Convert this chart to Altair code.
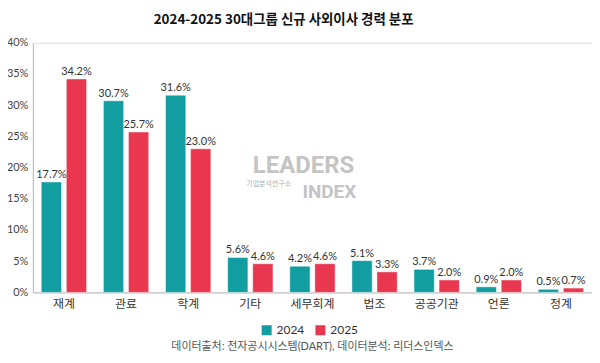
import altair as alt
import pandas as pd

categories = ["재계", "관료", "학계", "기타", "세무회계", "법조", "공공기관", "언론", "정계"]
years = ["2024", "2025"]
v2024 = [17.7, 30.7, 31.6, 5.6, 4.2, 5.1, 3.7, 0.9, 0.5]
v2025 = [34.2, 25.7, 23.0, 4.6, 4.6, 3.3, 2.0, 2.0, 0.7]
y_ticks = [0, 0.05, 0.10, 0.15, 0.20, 0.25, 0.30, 0.35, 0.40]
colors = ["#129ea1", "#e8374f"]
title_text = "2024-2025 30대그룹 신규 사외이사 경력 분포"
source_text = "데이터출처: 전자공시시스템(DART), 데이터분석: 리더스인덱스"

rows = []
for c, a, b in zip(categories, v2024, v2025):
    rows.append({"cat": c, "year": "2024", "v": a})
    rows.append({"cat": c, "year": "2025", "v": b})
df = pd.DataFrame(rows)
df["frac"] = df["v"] / 100
df["label"] = df["v"].map(lambda x: f"{x:.1f}%")

FONT = "Lato, Noto Sans CJK KR"
W, H = 562, 251

x = alt.X("cat:N", sort=categories,
          scale=alt.Scale(paddingInner=0.27, paddingOuter=0.135),
          axis=alt.Axis(title=None, labelAngle=0, ticks=False, domainColor="#bbbbbb",
                        labelFontSize=12, labelPadding=6, labelColor="#333333", labelFont=FONT))
xo = alt.XOffset("year:N", sort=years, scale=alt.Scale(paddingInner=0.19))
y = alt.Y("frac:Q", scale=alt.Scale(domain=[0, 0.4]),
          axis=alt.Axis(title=None, format=".0%", values=y_ticks, grid=False, ticks=False,
                        domainColor="#bbbbbb", labelPadding=5, labelFontSize=11,
                        labelColor="#444444", labelFont=FONT, labelOverlap=False,
                        tickCount=9))
color = alt.Color("year:N", sort=years,
                  scale=alt.Scale(domain=years, range=colors),
                  legend=alt.Legend(title=None, orient="none", direction="horizontal",
                                    legendX=229, legendY=283, symbolType="square",
                                    symbolSize=100, symbolStrokeWidth=0, labelFontSize=12,
                                    labelColor="#333333", labelFont=FONT, columnPadding=10,
                                    symbolOpacity=1))

bars = alt.Chart(df).mark_bar(stroke="white", strokeWidth=0.5).encode(
    x=x, xOffset=xo, y=y, color=color
)
labels = alt.Chart(df).mark_text(dy=-7, fontSize=11, color="#333333", font=FONT).encode(
    x=x, xOffset=xo, y=y, text="label:N"
)

src = alt.Chart(pd.DataFrame({"t": [source_text]})).mark_text(
    fontSize=11, color="#555555", font=FONT
).encode(x=alt.value(W / 2), y=alt.value(306), text="t:N")

wm1 = alt.Chart(pd.DataFrame({"t": ["LEADERS"]})).mark_text(
    fontSize=24, color="#c4c4c4", font="Roboto", fontWeight="bold"
).encode(x=alt.value(272), y=alt.value(124), text="t:N")
wm2 = alt.Chart(pd.DataFrame({"t": ["기업분석연구소"]})).mark_text(
    fontSize=7, color="#b0b0b0", font="Noto Sans CJK KR"
).encode(x=alt.value(237), y=alt.value(142), text="t:N")
wm3 = alt.Chart(pd.DataFrame({"t": ["INDEX"]})).mark_text(
    fontSize=19, color="#c4c4c4", font="Roboto", fontWeight="bold"
).encode(x=alt.value(298), y=alt.value(150), text="t:N")

chart = alt.layer(wm1, wm2, wm3, bars, labels, src).properties(
    width=W, height=H,
    title=alt.TitleParams(title_text, fontSize=13.5, fontWeight="bold", anchor="middle",
                          dx=-29, offset=10, color="#111111", font="Noto Sans CJK KR"),
    autosize=alt.AutoSizeParams(type="none"),
    padding={"left": 25, "top": 34, "right": 0, "bottom": 62},
).configure_view(stroke=None).configure(background="white")

chart.save("out.html", embed_options={"renderer": "svg", "actions": False})
